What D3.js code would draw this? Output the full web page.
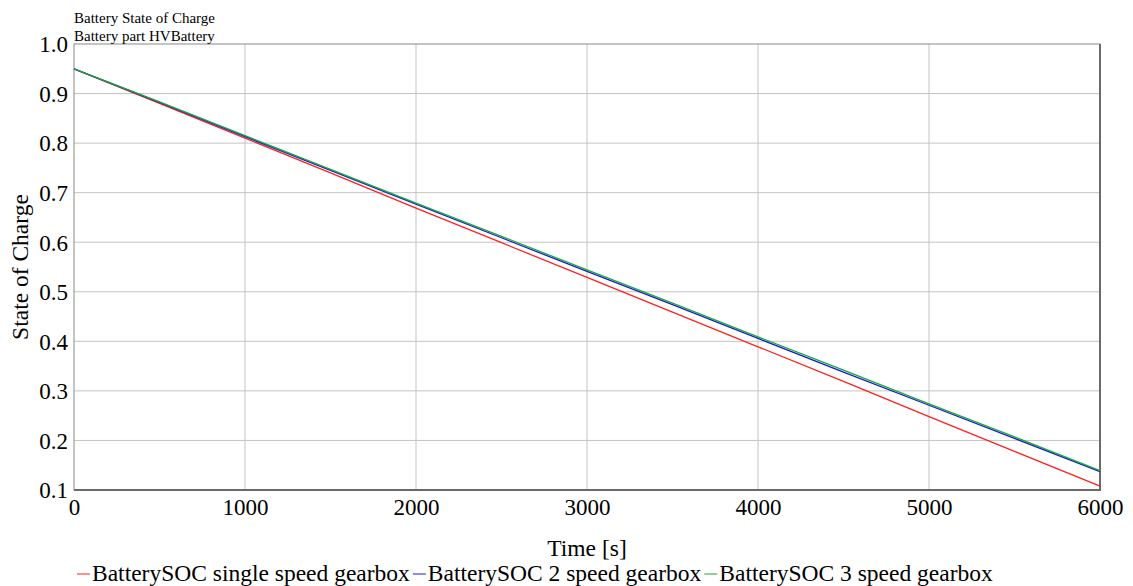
<!DOCTYPE html>
<html>
<head>
<meta charset="utf-8">
<script src="https://cdn.jsdelivr.net/npm/d3@7"></script>
<style>
  body { margin: 0; background: #fff; }
  svg text { font-family: "Liberation Serif", "DejaVu Serif", serif !important; fill: #000; }
</style>
</head>
<body>
<svg id="chart"></svg>
<script>
// time samples [s]
const times = [0, 500, 1000, 1500, 2000, 2500, 3000, 3500, 4000, 4500, 5000, 5500, 6000];
// state of charge
const socSingle = [0.950, 0.880, 0.810, 0.740, 0.669, 0.599, 0.529, 0.459, 0.389, 0.319, 0.248, 0.178, 0.108];
const soc2Speed = [0.950, 0.882, 0.813, 0.745, 0.677, 0.609, 0.541, 0.474, 0.406, 0.338, 0.271, 0.204, 0.137];
const soc3Speed = [0.950, 0.883, 0.815, 0.747, 0.679, 0.612, 0.544, 0.477, 0.409, 0.342, 0.274, 0.207, 0.139];
const seriesNames = ["BatterySOC single speed gearbox", "BatterySOC 2 speed gearbox", "BatterySOC 3 speed gearbox"];
const seriesColors = ["#ff2020", "#1818d8", "#18a838"];
const xTicks = [0, 1000, 2000, 3000, 4000, 5000, 6000];
const yTicks = [0.1, 0.2, 0.3, 0.4, 0.5, 0.6, 0.7, 0.8, 0.9, 1.0];

const width = 1133, height = 586;
const margin = { top: 44, right: 33, bottom: 96, left: 74 };
const innerW = width - margin.left - margin.right;
const innerH = height - margin.top - margin.bottom;
const serif = '"Liberation Serif", "DejaVu Serif", serif';

const svg = d3.select("#chart").attr("width", width).attr("height", height);
const chart = svg.append("g").attr("transform", `translate(${margin.left},${margin.top})`);

const x = d3.scaleLinear().domain([0, 6000]).range([0, innerW]);
const y = d3.scaleLinear().domain([0.1, 1.0]).range([innerH, 0]);

// grid
chart.append("g")
  .selectAll("line").data(xTicks.slice(1, -1)).enter().append("line")
  .attr("x1", d => x(d)).attr("x2", d => x(d))
  .attr("y1", 0).attr("y2", innerH)
  .attr("stroke", "#c4c4c4").attr("stroke-width", 1);
chart.append("g")
  .selectAll("line").data(yTicks.slice(1, -1)).enter().append("line")
  .attr("x1", 0).attr("x2", innerW)
  .attr("y1", d => y(d)).attr("y2", d => y(d))
  .attr("stroke", "#c4c4c4").attr("stroke-width", 1);

// axes (labels only)
const xaxis = d3.axisBottom(x).tickValues(xTicks).tickFormat(d3.format("d")).tickSize(0).tickPadding(9);
const xg = chart.append("g").attr("transform", `translate(0,${innerH})`).call(xaxis)
  .attr("font-family", serif).attr("font-size", 23);
xg.select(".domain").remove();

const yaxis = d3.axisLeft(y).tickValues(yTicks).tickFormat(d3.format(".1f")).tickSize(0).tickPadding(6);
const yg = chart.append("g").call(yaxis)
  .attr("font-family", serif).attr("font-size", 23);
yg.select(".domain").remove();
yg.selectAll("text").attr("dy", "0.34em");

// frame
chart.append("rect")
  .attr("x", 0).attr("y", 0).attr("width", innerW).attr("height", innerH)
  .attr("fill", "none").attr("stroke", "#8a8a8a").attr("stroke-width", 1);
chart.append("path")
  .attr("d", `M${innerW},0V${innerH}H0`)
  .attr("fill", "none").attr("stroke", "#6a6a6a").attr("stroke-width", 2);

// lines
const allSeries = [socSingle, soc2Speed, soc3Speed];
const line = d3.line().x((d, i) => x(times[i])).y(d => y(d));
allSeries.forEach((s, k) => {
  chart.append("path")
    .datum(s)
    .attr("d", line)
    .attr("fill", "none")
    .attr("stroke", seriesColors[k])
    .attr("stroke-width", 1.3);
});

// titles
svg.append("text").attr("x", 74).attr("y", 23).style("font-size", "15px").text("Battery State of Charge");
svg.append("text").attr("x", 74).attr("y", 41).style("font-size", "15px").text("Battery part HVBattery");

// axis titles
svg.append("text")
  .attr("x", margin.left + innerW / 2).attr("y", 556)
  .attr("text-anchor", "middle").style("font-size", "23.5px").text("Time [s]");
svg.append("text")
  .attr("transform", `translate(28,${margin.top + innerH / 2}) rotate(-90)`)
  .attr("text-anchor", "middle").style("font-size", "23.5px").text("State of Charge");

// legend
const legend = svg.append("g").attr("transform", "translate(77,581)");
let lx = 0;
seriesNames.forEach((name, k) => {
  legend.append("line")
    .attr("x1", lx).attr("x2", lx + 13).attr("y1", -7).attr("y2", -7)
    .attr("stroke", seriesColors[k]).attr("stroke-width", 1);
  const t = legend.append("text").attr("x", lx + 15).attr("y", 0).style("font-size", "23.5px").text(name);
  lx += 15 + t.node().getComputedTextLength() + 3;
});
</script>
</body>
</html>
